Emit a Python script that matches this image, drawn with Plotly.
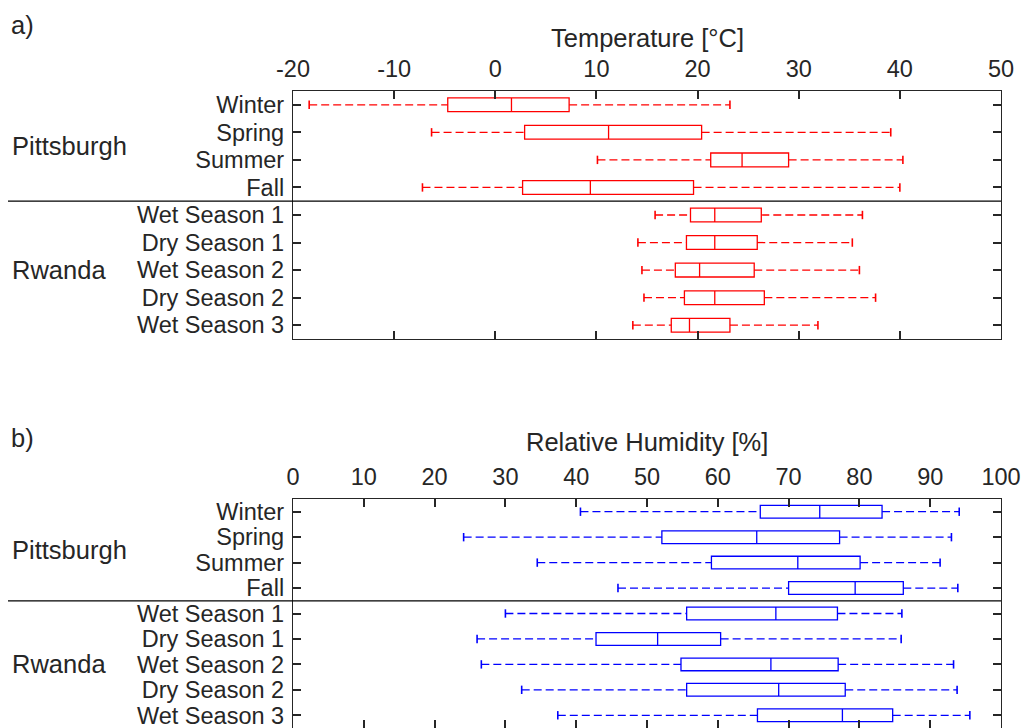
import plotly.graph_objects as go

# ---------------- data ----------------
categories = ["Winter", "Spring", "Summer", "Fall",
              "Wet Season 1", "Dry Season 1", "Wet Season 2", "Dry Season 2", "Wet Season 3"]
positions = [1, 2, 3, 4, 5, 6, 7, 8, 9]
groups = ["Pittsburgh", "Rwanda"]
group_pos = [2.5, 7]

# Temperature [°C]
temp_low = [-18.4, -6.3, 10.1, -7.2, 15.8, 14.1, 14.5, 14.7, 13.6]
temp_q1 = [-4.7, 2.9, 21.3, 2.7, 19.3, 18.9, 17.8, 18.7, 17.4]
temp_med = [1.6, 11.2, 24.4, 9.4, 21.7, 21.7, 20.2, 21.7, 19.2]
temp_q3 = [7.3, 20.4, 29.0, 19.6, 26.3, 25.9, 25.6, 26.6, 23.2]
temp_high = [23.2, 39.1, 40.3, 40.0, 36.3, 35.3, 36.0, 37.6, 31.9]

# Relative Humidity [%]
rh_low = [40.6, 24.1, 34.5, 45.9, 30.0, 26.0, 26.6, 32.3, 37.4]
rh_q1 = [66.0, 52.1, 59.1, 70.0, 55.6, 42.8, 54.8, 55.6, 65.6]
rh_med = [74.4, 65.5, 71.3, 79.4, 68.2, 51.5, 67.5, 68.6, 77.6]
rh_q3 = [83.2, 77.2, 80.1, 86.2, 76.9, 60.4, 77.0, 78.0, 84.7]
rh_high = [94.1, 93.0, 91.4, 93.9, 86.0, 85.9, 93.3, 93.8, 95.6]

temp_ticks = [-20, -10, 0, 10, 20, 30, 40, 50]
rh_ticks = [0, 10, 20, 30, 40, 50, 60, 70, 80, 90, 100]

# ---------------- layout constants ----------------
W, H = 1021, 728
ML, MR = 293, 20
FONT = "Liberation Sans, Arial, Helvetica, sans-serif"
TXT = "#262626"
FS = 23.5    # tick labels
FL = 25.5    # titles / group labels
dom_a = [1 - 339 / H, 1 - 91 / H]
dom_b = [0.0, 1 - 499 / H]
YR = [9.5, 0.5]

def ypaper(dom, v):
    return dom[0] + (dom[1] - dom[0]) * (YR[0] - v) / (YR[0] - YR[1])

def xpaper(px):
    return (px - ML) / (W - ML - MR)

fig = go.Figure()

def add_panel(low, q1, med, q3, high, color, xa, ya):
    fig.add_trace(go.Box(
        y=positions, q1=q1, median=med, q3=q3, lowerfence=q1, upperfence=q3,
        orientation="h", width=0.5, boxpoints=False,
        line=dict(color=color, width=1.3), fillcolor="rgba(0,0,0,0)",
        whiskerwidth=0, xaxis=xa, yaxis=ya, showlegend=False, hoverinfo="skip"))
    wx, wy = [], []
    for p, lo, a, b, hi in zip(positions, low, q1, q3, high):
        wx += [lo, a, None, b, hi, None]
        wy += [p, p, None, p, p, None]
    fig.add_trace(go.Scatter(
        x=wx, y=wy, mode="lines", line=dict(color=color, width=1.3, dash="8px,4px"),
        xaxis=xa, yaxis=ya, showlegend=False, hoverinfo="skip"))
    fig.add_trace(go.Scatter(
        x=low + high, y=positions + positions, mode="markers",
        marker=dict(symbol="line-ns", size=6, line=dict(color=color, width=1.6)),
        xaxis=xa, yaxis=ya, showlegend=False, hoverinfo="skip"))

add_panel(temp_low, temp_q1, temp_med, temp_q3, temp_high, "#FF0000", "x", "y")
add_panel(rh_low, rh_q1, rh_med, rh_q3, rh_high, "#0000FF", "x2", "y2")

xcommon = dict(side="top", ticks="inside", ticklen=8, tickwidth=1.5, tickcolor=TXT,
               showline=True, linecolor=TXT, linewidth=1.3, mirror="ticks",
               showgrid=False, zeroline=False, ticklabelstandoff=3,
               ticklabeloverflow="allow",
               tickfont=dict(family=FONT, size=FS, color=TXT))
ycommon = dict(range=YR, tickvals=positions, ticktext=categories, ticks="inside",
               ticklen=8, tickwidth=1.5, tickcolor=TXT, showline=True, linecolor=TXT,
               linewidth=1.3, mirror="ticks", showgrid=False, zeroline=False,
               ticklabelstandoff=3, ticklabeloverflow="allow",
               tickfont=dict(family=FONT, size=FS, color=TXT))

fig.update_layout(
    width=W, height=H, margin=dict(l=ML, r=MR, t=0, b=0, autoexpand=False),
    paper_bgcolor="white", plot_bgcolor="white",
    font=dict(family=FONT, size=FS, color=TXT),
    xaxis=dict(xcommon, range=[temp_ticks[0], temp_ticks[-1]], tickvals=temp_ticks,
               ticktext=[str(t) for t in temp_ticks], anchor="y", domain=[0, 1]),
    yaxis=dict(ycommon, domain=dom_a, anchor="x"),
    xaxis2=dict(xcommon, range=[rh_ticks[0], rh_ticks[-1]], tickvals=rh_ticks,
                ticktext=[str(t) for t in rh_ticks], anchor="y2", domain=[0, 1]),
    yaxis2=dict(ycommon, domain=dom_b, anchor="x2"),
    boxmode="overlay",
)

anns = []
shapes = []
for dom, label, ly, title, ty in [(dom_a, "a)", 25, "Temperature [°C]", 38),
                                  (dom_b, "b)", 438, "Relative Humidity [%]", 442)]:
    anns.append(dict(text=label, xref="paper", yref="paper", x=xpaper(9), y=1 - ly / H,
                     xanchor="left", yanchor="middle", showarrow=False,
                     font=dict(family=FONT, size=FL, color=TXT)))
    anns.append(dict(text=title, xref="paper", yref="paper", x=0.5, y=1 - ty / H,
                     xanchor="center", yanchor="middle", showarrow=False,
                     font=dict(family=FONT, size=FL, color=TXT)))
    for g, gp in zip(groups, group_pos):
        anns.append(dict(text=g, xref="paper", yref="paper", x=xpaper(10), y=ypaper(dom, gp),
                         xanchor="left", yanchor="middle", showarrow=False,
                         font=dict(family=FONT, size=FL, color=TXT)))
    yp = ypaper(dom, 4.5)
    shapes.append(dict(type="line", xref="paper", yref="paper", x0=xpaper(8), x1=1,
                       y0=yp, y1=yp, line=dict(color="black", width=1.3)))

fig.update_layout(annotations=anns, shapes=shapes)
fig.write_html("out.html", config={"displayModeBar": False},
               post_script="document.body.style.margin='0px';document.body.style.padding='0px';")
